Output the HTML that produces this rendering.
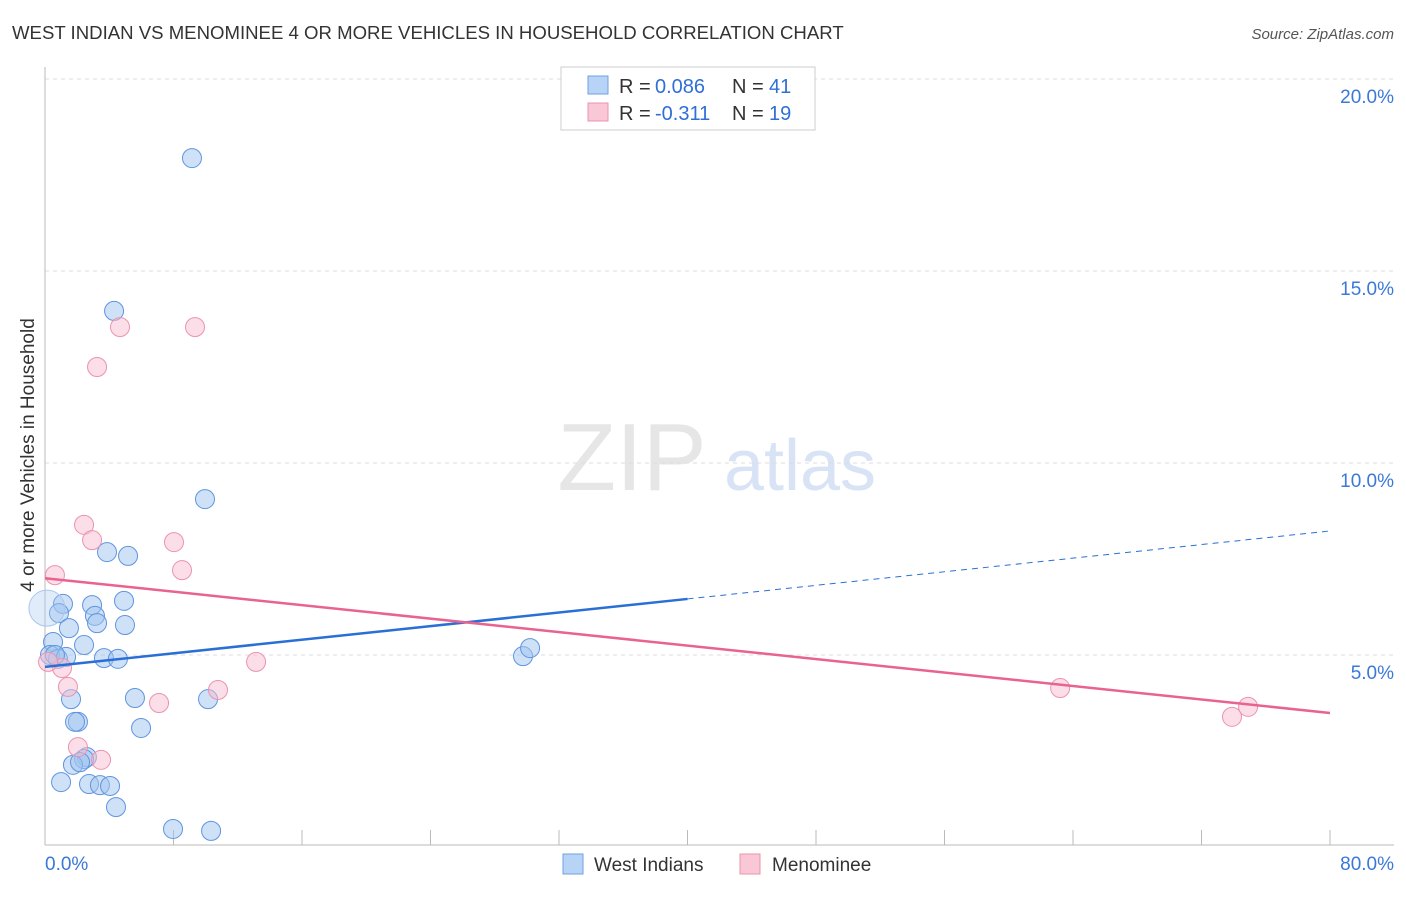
<!DOCTYPE html>
<html><head><meta charset="utf-8"><style>
body{margin:0;background:#fff;font-family:"Liberation Sans",sans-serif;}
svg text{font-family:"Liberation Sans",sans-serif;}
</style></head><body>
<svg id="c" width="1406" height="892">
<text x="12" y="39" font-size="18.6" fill="#333">WEST INDIAN VS MENOMINEE 4 OR MORE VEHICLES IN HOUSEHOLD CORRELATION CHART</text>
<text x="1394" y="39" font-size="15" fill="#555" font-style="italic" text-anchor="end">Source: ZipAtlas.com</text>
<text x="632" y="490" font-size="96" fill="#e6e6e6" font-family="Liberation Serif" text-anchor="middle">ZIP</text>
<text x="800" y="490" font-size="72" fill="#d8e4f5" text-anchor="middle">atlas</text>
<text transform="translate(34,455) rotate(-90)" font-size="19" fill="#333" text-anchor="middle">4 or more Vehicles in Household</text>
<g id="grid"></g><g id="marks"></g>
<g>
<rect x="561" y="67" width="254" height="63" fill="#fff" stroke="#ccc"/>
<rect x="588" y="76" width="20" height="18" fill="#b7d3f5" stroke="#6fa0e0"/>
<rect x="588" y="103" width="20" height="18" fill="#f9c7d6" stroke="#ec93ae"/>
<text x="619" y="93" font-size="20" fill="#333">R =</text>
<text x="655" y="93" font-size="20" fill="#2f6fd6">0.086</text>
<text x="732" y="93" font-size="20" fill="#333">N =</text>
<text x="769" y="93" font-size="20" fill="#2f6fd6">41</text>
<text x="619" y="120" font-size="20" fill="#333">R =</text>
<text x="655" y="120" font-size="20" fill="#2f6fd6">-0.311</text>
<text x="732" y="120" font-size="20" fill="#333">N =</text>
<text x="769" y="120" font-size="20" fill="#2f6fd6">19</text>
</g>
<g>
<rect x="563" y="854" width="20" height="20" fill="#b7d3f5" stroke="#6fa0e0"/>
<text x="594" y="871" font-size="19" fill="#333">West Indians</text>
<rect x="740" y="854" width="20" height="20" fill="#f9c7d6" stroke="#ec93ae"/>
<text x="772" y="871" font-size="19" fill="#333">Menominee</text>
</g>
</svg>
<script>
const yTicks=[5,10,15,20];
const yTickLabels=["5.0%","10.0%","15.0%","20.0%"];
const blueX=[9.15,4.30,9.96,3.86,5.17,1.12,4.92,2.93,3.11,3.24,4.98,0.87,1.49,0.50,2.43,0.31,0.81,3.67,4.54,1.31,1.62,5.60,10.15,2.05,1.87,5.98,2.61,2.43,1.74,2.18,1.0,2.74,3.42,4.05,4.42,7.97,10.34,29.76,30.20,0.12,0.62];
const blueY=[17.94,13.96,9.06,7.68,7.58,6.33,6.41,6.30,6.02,5.83,5.78,6.09,5.70,5.34,5.26,5.0,4.90,4.92,4.90,4.95,3.85,3.88,3.85,3.26,3.26,3.10,2.34,2.29,2.14,2.21,1.69,1.64,1.61,1.59,1.04,0.47,0.42,4.97,5.18,6.22,5.0];
const pinkX=[0.62,2.43,2.93,4.67,9.34,3.24,8.03,8.53,13.14,10.77,7.10,1.43,1.06,0.19,2.05,3.49,63.2,73.9,74.9];
const pinkY=[7.08,8.39,7.99,13.54,13.54,12.5,7.94,7.21,4.82,4.09,3.75,4.17,4.66,4.82,2.60,2.27,4.14,3.39,3.65];
const blueTrend=[4.69,8.23];
const pinkTrend=[7.0,3.49];
const blueSolidEnd=40;
const NS="http://www.w3.org/2000/svg";
const X=v=>45+v/80*1285, Y=v=>847-v*38.4;
function mk(t,a,p){const e=document.createElementNS(NS,t);for(const k in a)e.setAttribute(k,a[k]);p.appendChild(e);return e;}
const g=document.getElementById('grid'),m=document.getElementById('marks');
yTicks.forEach((t,i)=>{
 const l=mk('line',{x1:45,x2:1394,y1:Y(t),y2:Y(t),stroke:'#ddd','stroke-dasharray':'4,4'},g);
 
 
 const tx=mk('text',{x:1394,y:Y(t)+24,'font-size':19,fill:'#3b78d8','text-anchor':'end'},g);tx.textContent=yTickLabels[i];
 
 
});
mk('line',{x1:45,x2:45,y1:67,y2:845,stroke:'#bbb'},g);
mk('line',{x1:45,x2:1394,y1:845,y2:845,stroke:'#bbb'},g);
for(let i=0;i<=10;i++){const t=mk('line',{x1:X(i*8),x2:X(i*8),y1:830,y2:845,stroke:'#bbb'},g);
 
 }
const x0=mk('text',{x:45,y:870,'font-size':19,fill:'#3b78d8'},g);x0.textContent="0.0%";


const x1=mk('text',{x:1394,y:870,'font-size':19,fill:'#3b78d8','text-anchor':'end'},g);x1.textContent="80.0%";


blueX.forEach((v,i)=>{const big=(i==39);const c=mk('circle',{cx:X(v),cy:Y(blueY[i]),r:big?18:9.5,fill:big?'rgba(170,200,240,0.35)':'rgba(160,196,240,0.5)',stroke:big?'#a9c6ee':'#5f95df','stroke-width':1},m);
 
 });
pinkX.forEach((v,i)=>{const c=mk('circle',{cx:X(v),cy:Y(pinkY[i]),r:9.5,fill:'rgba(248,190,208,0.5)',stroke:'#ec93ae','stroke-width':1},m);
 
 });
const by=v=>blueTrend[0]+(blueTrend[1]-blueTrend[0])*v/80;
const b1=mk('line',{x1:X(0),y1:Y(by(0)),x2:X(blueSolidEnd),y2:Y(by(blueSolidEnd)),stroke:'#2a6fd6','stroke-width':2.5},m);


const b2=mk('line',{x1:X(blueSolidEnd),y1:Y(by(blueSolidEnd)),x2:X(80),y2:Y(by(80)),stroke:'#2a6fd6','stroke-width':1,'stroke-dasharray':'6,5'},m);


const p1=mk('line',{x1:X(0),y1:Y(pinkTrend[0]),x2:X(80),y2:Y(pinkTrend[1]),stroke:'#e8638f','stroke-width':2.5},m);


</script>
</body></html>
